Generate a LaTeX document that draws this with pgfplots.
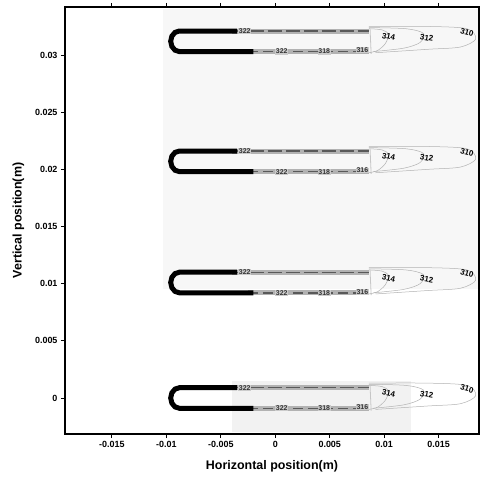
\documentclass[border=0pt]{standalone}
\usepackage{pgfplots}
\pgfplotsset{compat=1.18}
\usepackage{pgfplotstable}
\usepackage{fontspec}
\setmainfont{Liberation Sans}

% hairpin outline of one tube (black part), centred on y=0
\pgfplotstableread{
x y
-0.0035 0.0009
-0.0088 0.0009
-0.0092 0.00078
-0.00949 0.00045
-0.0096 0
-0.00949 -0.00045
-0.0092 -0.00078
-0.0088 -0.0009
-0.0020 -0.0009
}\hairpin

% grey continuation of the tube walls
\pgfplotstableread{
x y
-0.0040 0.0009
0.0086 0.0009
}\walltop
\pgfplotstableread{
x y
-0.0025 -0.0009
0.0086 -0.0009
}\wallbot

% contour loops round the tube end
\pgfplotstableread{
x y
0.0086 0.0011
0.0098 0.0010
0.0104 0.0006
0.0101 -0.0002
0.0094 -0.0008
0.0086 -0.0010
}\cfourteen
\pgfplotstableread{
x y
0.0086 0.0012
0.0120 0.0011
0.0136 0.0007
0.0133 -0.0001
0.0118 -0.0006
0.0090 -0.0009
}\ctwelve
\pgfplotstableread{
x y
0.0086 0.0013
0.0140 0.0013
0.0176 0.0011
0.0184 0.0002
0.0170 -0.0005
0.0140 -0.0007
0.0092 -0.0010
}\cten

\newcommand\tube[1]{%
  \addplot[gray!60, line width=5bp] table[x=x, y expr=\thisrow{y}+#1] {\walltop};
  \addplot[gray!60, line width=5bp] table[x=x, y expr=\thisrow{y}+#1] {\wallbot};
  \addplot[black!65, line width=1.4bp, dash pattern=on 14bp off 4bp] table[x=x, y expr=\thisrow{y}+#1] {\walltop};
  \addplot[black!65, line width=1.4bp, dash pattern=on 10bp off 5bp] table[x=x, y expr=\thisrow{y}+#1] {\wallbot};
  \addplot[black, line width=5bp] table[x=x, y expr=\thisrow{y}+#1] {\hairpin};
  \addplot[gray!45, line width=0.8bp] coordinates {(0.0087,#1+0.0011) (0.0088,#1-0.0011)};
  \addplot[gray!60, line width=0.5bp, smooth] table[x=x, y expr=\thisrow{y}+#1] {\cfourteen};
  \addplot[gray!60, line width=0.5bp, smooth] table[x=x, y expr=\thisrow{y}+#1] {\ctwelve};
  \addplot[gray!60, line width=0.5bp, smooth] table[x=x, y expr=\thisrow{y}+#1] {\cten};
  \node[font=\bfseries\fontsize{7}{7}\selectfont, text=black!80, inner sep=0.5bp, fill=gray!40] at (axis cs:-0.0028,#1+0.0009) {322};
  \node[font=\bfseries\fontsize{7}{7}\selectfont, text=black!80, inner sep=0.5bp, fill=gray!40] at (axis cs:0.0006,#1-0.0009) {322};
  \node[font=\bfseries\fontsize{7}{7}\selectfont, text=black!80, inner sep=0.5bp, fill=gray!40] at (axis cs:0.0045,#1-0.0009) {318};
  \node[font=\bfseries\fontsize{7}{7}\selectfont, text=black!80, inner sep=0.5bp, fill=gray!40] at (axis cs:0.0080,#1-0.0008) {316};
  \node[font=\bfseries\fontsize{8}{8}\selectfont, rotate=-12] at (axis cs:0.0104,#1+0.0004) {314};
  \node[font=\bfseries\fontsize{8}{8}\selectfont, rotate=-10] at (axis cs:0.0139,#1+0.0003) {312};
  \node[font=\bfseries\fontsize{8}{8}\selectfont, rotate=-15] at (axis cs:0.0176,#1+0.0008) {310};
}

\begin{document}
\begin{tikzpicture}
\begin{axis}[
    scale only axis,
    width=414bp, height=427bp,
    xmin=-0.0193, xmax=0.0187,
    ymin=-0.00315, ymax=0.0342,
    scaled ticks=false,
    xtick={-0.015,-0.01,-0.005,0,0.005,0.01,0.015},
    xticklabels={-0.015,-0.01,-0.005,0,0.005,0.01,0.015},
    ytick={0,0.005,0.01,0.015,0.02,0.025,0.03},
    yticklabels={0,0.005,0.01,0.015,0.02,0.025,0.03},
    tick align=outside,
    xtick pos=both,
    ytick pos=left,
    major tick length=4bp,
    axis line style={line width=1.2bp},
    tick style={black, line width=0.8bp},
    ticklabel style={font=\bfseries\fontsize{9}{9}\selectfont},
    xlabel={Horizontal position(m)},
    ylabel={Vertical position(m)},
    label style={font=\bfseries\fontsize{12.5}{13}\selectfont},
    xlabel style={yshift=-6bp},
    ylabel style={yshift=4bp},
    clip=false,
]
\addplot[fill=black!3, draw=none] coordinates {(-0.0103,0.0095) (0.0186,0.0095) (0.0186,0.0340) (-0.0103,0.0340)} --cycle;
\addplot[fill=black!5, draw=none] coordinates {(-0.0040,-0.0030) (0.0125,-0.0030) (0.0125,0.0015) (-0.0040,0.0015)} --cycle;
\tube{0}
\tube{0.0101}
\tube{0.0207}
\tube{0.0312}
\end{axis}
\path (current axis.south west) ++(-65bp,-51bp) coordinate (bl);
\path (current axis.north east) ++(1bp,7bp) coordinate (tr);
\path (bl) rectangle (tr);
\end{tikzpicture}
\end{document}
